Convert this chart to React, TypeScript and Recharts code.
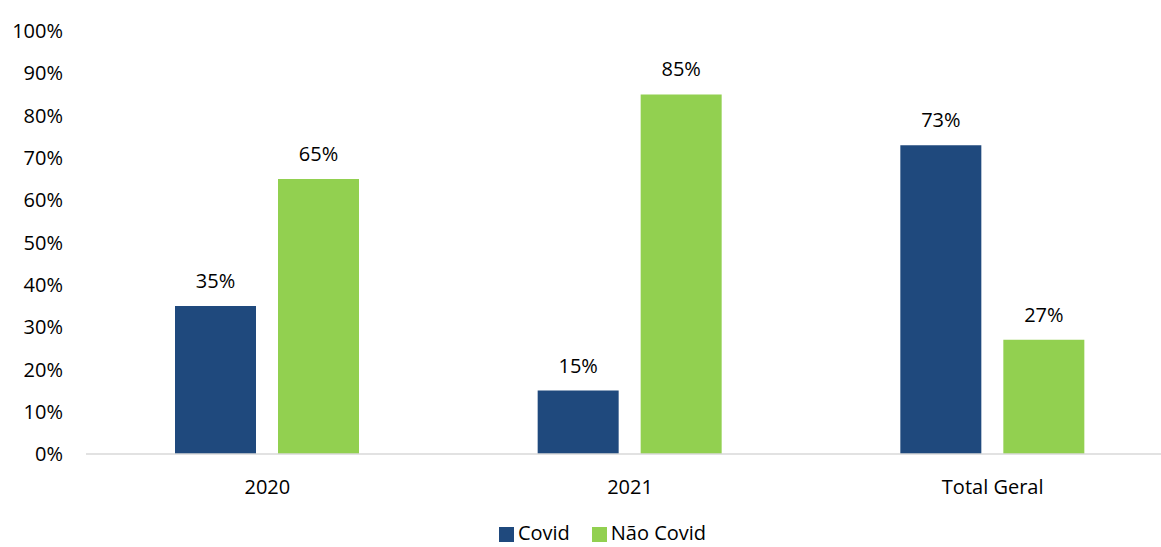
import React from "react";
import { BarChart, Bar, XAxis, YAxis, Legend, LabelList } from "recharts";

const categories = ["2020", "2021", "Total Geral"];
const covid = [35, 15, 73];
const naoCovid = [65, 85, 27];
const yTicks = [0, 10, 20, 30, 40, 50, 60, 70, 80, 90, 100];
const seriesNames = ["Covid", "Não Covid"];
const seriesColors = ["#1F497D", "#92D050"];

const data = categories.map((c, i) => ({
  name: c,
  covid: covid[i],
  naoCovid: naoCovid[i],
}));

const FONT = "'Open Sans', sans-serif";

const renderLegend = (props: any) => {
  const payload = props.payload || [];
  return (
    <div
      style={{
        height: 28,
        lineHeight: "28px",
        display: "flex",
        justifyContent: "center",
        alignItems: "center",
        paddingLeft: 31,
        fontFamily: FONT,
        fontSize: 20,
        color: "#000",
      }}
    >
      {payload.map((p: any, i: number) => (
        <div
          key={i}
          style={{ display: "flex", alignItems: "center", marginRight: i === 0 ? 22 : 0 }}
        >
          <span
            style={{
              display: "inline-block",
              width: 15,
              height: 15,
              background: p.color,
              marginRight: 4,
              marginTop: 3,
            }}
          />
          <span style={{ lineHeight: "28px" }}>{p.value}</span>
        </div>
      ))}
    </div>
  );
};

export default function App() {
  return (
    <div
      style={{
        position: "absolute",
        left: 0,
        top: 0,
        width: 1161,
        height: 547,
        overflow: "hidden",
        background: "#fff",
      }}
    >
      <BarChart
        width={1180}
        height={547}
        data={data}
        margin={{ top: 31, right: 6, bottom: 0, left: 0 }}
        barSize={81}
        barGap={22}
      >
        <XAxis
          dataKey="name"
          axisLine={{ stroke: "#d9d9d9", strokeWidth: 1.5 }}
          tickLine={false}
          height={65}
          tickMargin={20}
          tick={{ fill: "#000", fontSize: 20, fontFamily: FONT }}
        />
        <YAxis
          domain={[0, 100]}
          ticks={yTicks}
          width={86}
          axisLine={false}
          tickLine={false}
          tickMargin={17}
          interval={0}
          tickFormatter={(v: number) => `${v}%`}
          tick={{ fill: "#000", fontSize: 20, fontFamily: FONT }}
        />
        <Legend verticalAlign="bottom" content={renderLegend} />
        <Bar dataKey="covid" name={seriesNames[0]} fill={seriesColors[0]} isAnimationActive={false}>
          <LabelList
            dataKey="covid"
            position="top"
            offset={18}
            formatter={(v: any) => `${v}%`}
            style={{ fill: "#000", fontSize: 20, fontFamily: FONT }}
          />
        </Bar>
        <Bar dataKey="naoCovid" name={seriesNames[1]} fill={seriesColors[1]} isAnimationActive={false}>
          <LabelList
            dataKey="naoCovid"
            position="top"
            offset={18}
            formatter={(v: any) => `${v}%`}
            style={{ fill: "#000", fontSize: 20, fontFamily: FONT }}
          />
        </Bar>
      </BarChart>
    </div>
  );
}
